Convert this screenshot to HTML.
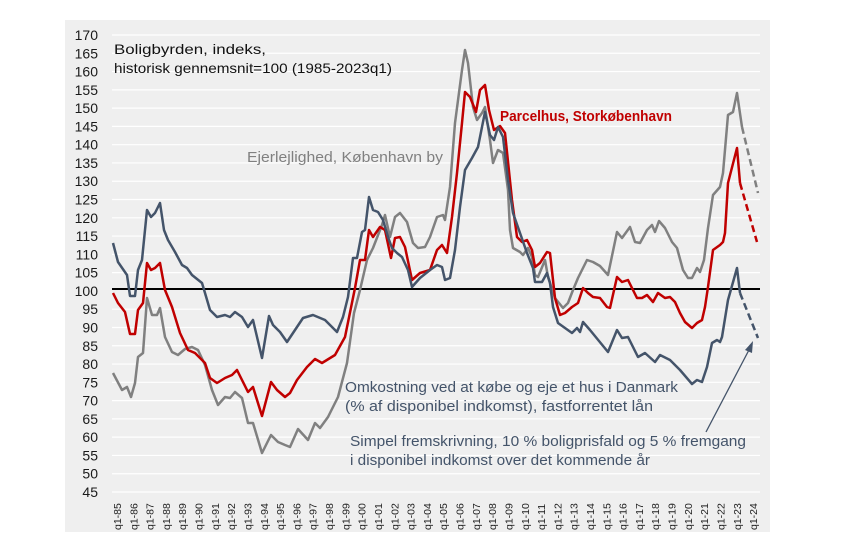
<!DOCTYPE html>
<html><head><meta charset="utf-8"><style>
body{margin:0;background:#fff;}
svg{display:block;font-family:"Liberation Sans",sans-serif;}
</style></head><body>
<svg width="848" height="547" viewBox="0 0 848 547" xmlns="http://www.w3.org/2000/svg">
<rect x="65" y="20" width="705" height="512" fill="#efefef"/>
<g stroke="#fff" stroke-width="1.2" id="grid"></g>
<g id="ylab" font-size="14" fill="#1a1a1a" text-anchor="end"></g>
<g id="xlab" font-size="10.5" fill="#222"></g>
<line x1="112" y1="289" x2="760" y2="289" stroke="#000" stroke-width="2"/>

<polyline fill="none" stroke="#808080" stroke-width="2.5" stroke-linejoin="round" points="113,373 122,390 127,387 131,397 135,383 138,357 143,353 147,298 152,315 157,315 160,308 165,337 172,352 178,355 185,349 192,347 198,350 205,365 212,390 218,405 225,397 230,398 235,392 242,398 248,423 253,423 262,453 271,435 278,442 285,445 290,447 298,429 308,440 315,423 320,428 328,417 338,397 347,363 354,313 360,290 367,260 373,248 382,225 385,215 390,237 395,217 400,213 407,222 413,243 418,248 425,247 430,237 437,217 443,215 445,220 450,187 455,123 462,70 465,50 468,63 473,107 477,120 482,113 485,107 490,140 493,163 498,150 503,153 508,190 510,230 513,248 520,252 523,255 528,248 532,257 535,275 538,277 545,260 548,277 555,298 563,308 568,303 573,290 578,278 587,260 593,262 600,266 608,275 617,232 622,238 630,227 635,242 640,243 647,230 652,225 655,232 659,221 665,228 672,242 677,248 683,270 688,278 692,278 697,268 700,272 704,260 708,228 713,195 720,187 723,173 728,115 733,112 737,93 742,127"/>
<polyline fill="none" stroke="#808080" stroke-width="2.5" stroke-dasharray="7,4" points="742,127 758,193"/>

<polyline fill="none" stroke="#c00000" stroke-width="2.5" stroke-linejoin="round" points="113,293 118,303 125,312 130,334 135,334 138,310 143,303 147,263 151,270 155,268 160,263 165,290 172,307 180,333 188,350 195,353 205,363 210,378 217,383 225,378 232,375 237,370 242,380 248,392 253,387 262,416 271,382 277,390 285,397 290,393 297,380 307,367 315,359 322,363 335,355 345,337 355,288 360,260 365,260 369,230 373,237 380,227 385,230 391,258 395,238 400,237 405,247 412,280 420,273 430,270 437,250 442,245 447,253 452,217 457,173 462,123 465,92 470,97 476,112 480,90 485,85 489,110 494,130 500,126 505,133 512,200 517,237 522,242 527,240 532,250 535,267 540,263 547,252 550,253 555,298 560,315 565,313 572,307 578,303 583,288 588,293 593,297 600,298 607,307 610,308 617,277 622,282 628,280 637,298 642,298 647,295 653,302 658,293 665,298 670,297 675,302 680,313 685,322 692,328 697,323 702,320 705,307 708,287 713,250 720,245 723,242 725,233 728,183 737,148 740,183"/>
<polyline fill="none" stroke="#c00000" stroke-width="2.5" stroke-dasharray="7,4" points="740,183 757,242"/>

<polyline fill="none" stroke="#44546a" stroke-width="2.5" stroke-linejoin="round" points="113,243 118,262 127,275 130,296 135,296 138,270 142,260 147,210 151,217 155,213 160,203 164,230 168,240 175,252 182,265 187,268 192,275 202,283 205,293 210,310 217,317 225,315 230,317 235,312 242,317 248,327 253,320 262,358 269,316 273,325 280,332 287,342 293,333 303,318 313,315 325,320 337,332 343,317 348,297 353,258 357,258 362,232 365,230 369,197 373,210 378,212 383,220 388,237 392,248 397,253 402,257 408,270 412,287 420,278 430,270 437,265 442,267 445,280 450,278 455,250 460,207 465,170 472,158 478,147 485,112 490,135 494,140 498,127 503,137 508,180 513,213 520,233 527,253 533,268 535,282 542,282 547,273 550,283 553,307 558,323 572,333 577,328 580,332 583,322 590,330 608,352 617,330 622,338 628,337 638,357 645,353 655,362 660,355 670,360 680,370 692,384 697,380 702,382 707,367 712,343 717,340 720,342 722,337 728,300 737,268 740,293"/>
<polyline fill="none" stroke="#44546a" stroke-width="2.5" stroke-dasharray="7,4" points="740,293 758,338"/>

<line x1="706" y1="432" x2="750" y2="348" stroke="#44546a" stroke-width="1.3"/>
<polygon points="753,341 745,350 752,353" fill="#44546a"/>

<g font-size="14" fill="#111">
<text x="114" y="54" textLength="152" lengthAdjust="spacingAndGlyphs">Boligbyrden, indeks,</text>
<text x="114" y="73" textLength="278" lengthAdjust="spacingAndGlyphs">historisk gennemsnit=100 (1985-2023q1)</text>
</g>
<text x="247" y="162" font-size="15" fill="#808080" textLength="196" lengthAdjust="spacingAndGlyphs">Ejerlejlighed, København by</text>
<text x="500" y="121" font-size="15" fill="#c00000" font-weight="bold" textLength="172" lengthAdjust="spacingAndGlyphs">Parcelhus, Storkøbenhavn</text>
<g font-size="15" fill="#44546a">
<text x="345" y="392" textLength="333" lengthAdjust="spacingAndGlyphs">Omkostning ved at købe og eje et hus i Danmark</text>
<text x="345" y="411" textLength="308" lengthAdjust="spacingAndGlyphs">(% af disponibel indkomst), fastforrentet lån</text>
<text x="350" y="446" textLength="396" lengthAdjust="spacingAndGlyphs">Simpel fremskrivning, 10 % boligprisfald og 5 % fremgang</text>
<text x="350" y="465" textLength="300" lengthAdjust="spacingAndGlyphs">i disponibel indkomst over det kommende år</text>
</g>
<script>
var ns="http://www.w3.org/2000/svg";
var g=document.getElementById("grid"),yl=document.getElementById("ylab"),xl=document.getElementById("xlab");
for(var i=0;i<=25;i++){var v=170-5*i,y=35+i*18.28;
 if(v!=100){var l=document.createElementNS(ns,"line");l.setAttribute("x1",112);l.setAttribute("x2",760);l.setAttribute("y1",y);l.setAttribute("y2",y);g.appendChild(l);}
 var t=document.createElementNS(ns,"text");t.setAttribute("x",98);t.setAttribute("y",y+5);t.textContent=v;yl.appendChild(t);}
for(var k=0;k<=39;k++){var yr=(85+k)%100;var s="q1-"+(yr<10?"0":"")+yr;var x=117+k*16.31;
 var t=document.createElementNS(ns,"text");t.setAttribute("transform","translate("+(x+4)+",530) rotate(-90)");t.textContent=s;xl.appendChild(t);}
</script>
</svg>
</body></html>
